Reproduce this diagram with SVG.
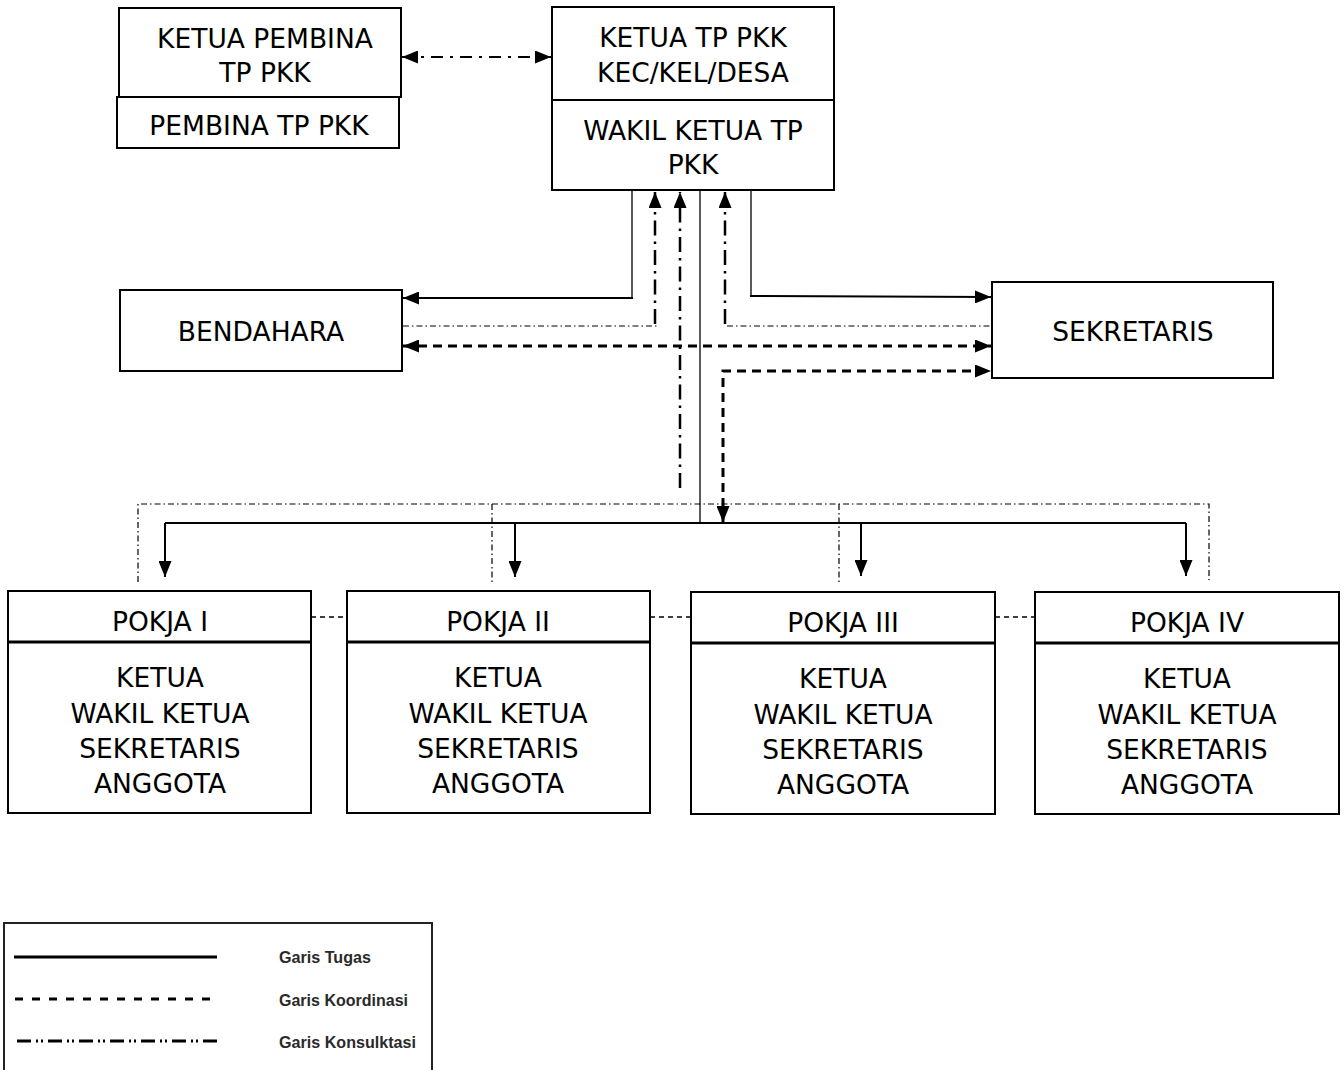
<svg xmlns="http://www.w3.org/2000/svg" width="1344" height="1070" viewBox="0 0 1344 1070">
<style>
.box{fill:#fff;stroke:#000;stroke-width:2}
.div{stroke:#000;stroke-width:3}
.t{font-family:"DejaVu Sans",Verdana,sans-serif;font-size:26.5px;fill:#000;text-anchor:middle}
.solid{fill:none;stroke:#000;stroke-width:2}
.thin{fill:none;stroke:#000;stroke-width:1.3}
.coord{fill:none;stroke:#000;stroke-width:3;stroke-dasharray:9 6}
.cons{fill:none;stroke:#000;stroke-width:2.5;stroke-dasharray:15 6 2.5 6}
.consthin{fill:none;stroke:#000;stroke-width:1.2;stroke-dasharray:6 3 1.5 3}
.pk{fill:none;stroke:#000;stroke-width:1.3;stroke-dasharray:5 4}
.lg{font-family:"Liberation Sans",Arial,sans-serif;font-weight:bold;font-size:17px;fill:#2a2a2a}
</style>
<defs>
<marker id="ah" viewBox="0 0 16 13" refX="16" refY="6.5" markerWidth="16" markerHeight="13" markerUnits="userSpaceOnUse" orient="auto-start-reverse">
<path d="M0,0 L16,6.5 L0,13 Z" fill="#000"/>
</marker>
</defs>

<g id="ketua-pembina">
<rect class="box" x="119" y="8" width="282" height="89"/>
<text class="t" x="265" y="48">KETUA PEMBINA</text>
<text class="t" x="265" y="82">TP PKK</text>
</g>
<g id="pembina">
<rect class="box" x="117" y="97" width="282" height="51"/>
<text class="t" x="259" y="135">PEMBINA TP PKK</text>
</g>
<g id="ketua-tp-pkk">
<rect class="box" x="552" y="7" width="282" height="183"/>
<line class="div" x1="552" y1="100" x2="834" y2="100" style="stroke-width:2"/>
<text class="t" x="693" y="47">KETUA TP PKK</text>
<text class="t" x="693" y="82">KEC/KEL/DESA</text>
<text class="t" x="693" y="140">WAKIL KETUA TP</text>
<text class="t" x="693" y="174">PKK</text>
</g>
<g id="bendahara">
<rect class="box" x="120" y="290" width="282" height="81"/>
<text class="t" x="261" y="341">BENDAHARA</text>
</g>
<g id="sekretaris">
<rect class="box" x="992" y="282" width="281" height="96"/>
<text class="t" x="1133" y="341">SEKRETARIS</text>
</g>
<g id="pokja1">
<rect class="box" x="8" y="591" width="303" height="222"/>
<line class="div" x1="8" y1="642" x2="311" y2="642"/>
<text class="t" x="160" y="631">POKJA I</text>
<text class="t" x="160" y="687">KETUA</text>
<text class="t" x="160" y="723">WAKIL KETUA</text>
<text class="t" x="160" y="758">SEKRETARIS</text>
<text class="t" x="160" y="793">ANGGOTA</text>
</g>
<g id="pokja2">
<rect class="box" x="347" y="591" width="303" height="222"/>
<line class="div" x1="347" y1="642" x2="650" y2="642"/>
<text class="t" x="498" y="631">POKJA II</text>
<text class="t" x="498" y="687">KETUA</text>
<text class="t" x="498" y="723">WAKIL KETUA</text>
<text class="t" x="498" y="758">SEKRETARIS</text>
<text class="t" x="498" y="793">ANGGOTA</text>
</g>
<g id="pokja3">
<rect class="box" x="691" y="592" width="304" height="222"/>
<line class="div" x1="691" y1="643" x2="995" y2="643"/>
<text class="t" x="843" y="632">POKJA III</text>
<text class="t" x="843" y="688">KETUA</text>
<text class="t" x="843" y="724">WAKIL KETUA</text>
<text class="t" x="843" y="759">SEKRETARIS</text>
<text class="t" x="843" y="794">ANGGOTA</text>
</g>
<g id="pokja4">
<rect class="box" x="1035" y="592" width="304" height="222"/>
<line class="div" x1="1035" y1="643" x2="1339" y2="643"/>
<text class="t" x="1187" y="632">POKJA IV</text>
<text class="t" x="1187" y="688">KETUA</text>
<text class="t" x="1187" y="724">WAKIL KETUA</text>
<text class="t" x="1187" y="759">SEKRETARIS</text>
<text class="t" x="1187" y="794">ANGGOTA</text>
</g>

<g id="connectors">
<line x1="402" y1="57" x2="551" y2="57" style="fill:none;stroke:#000;stroke-width:2;stroke-dasharray:12 7 3 7" marker-start="url(#ah)" marker-end="url(#ah)"/>
<polyline class="thin" points="632,191 632,298"/>
<line class="solid" x1="633" y1="298" x2="403" y2="298" marker-end="url(#ah)"/>
<polyline class="thin" points="751,191 751,296"/>
<line class="solid" x1="750" y1="296" x2="991" y2="297" marker-end="url(#ah)"/>
<line class="cons" x1="655" y1="324" x2="655" y2="192" marker-end="url(#ah)"/>
<line class="cons" x1="680" y1="488" x2="680" y2="192" marker-end="url(#ah)"/>
<line class="cons" x1="725" y1="324" x2="725" y2="192" marker-end="url(#ah)"/>
<polyline class="consthin" points="403,326 657,326"/>
<polyline class="consthin" points="727,326 992,326"/>
<line class="coord" x1="403" y1="346" x2="991" y2="346" marker-start="url(#ah)" marker-end="url(#ah)"/>
<polyline class="coord" points="723,522 723,371 991,371" marker-start="url(#ah)" marker-end="url(#ah)"/>
<line class="thin" x1="700" y1="191" x2="700" y2="523"/>
<polyline class="consthin" points="138,582 138,504 1209,504 1209,580"/>
<line class="consthin" x1="492" y1="504" x2="492" y2="583"/>
<line class="consthin" x1="839" y1="504" x2="839" y2="583"/>
<line class="solid" x1="165" y1="523" x2="1186" y2="523"/>
<line class="solid" x1="165" y1="523" x2="165" y2="577" marker-end="url(#ah)"/>
<line class="solid" x1="515" y1="523" x2="515" y2="577" marker-end="url(#ah)"/>
<line class="solid" x1="861" y1="523" x2="861" y2="576" marker-end="url(#ah)"/>
<line class="solid" x1="1186" y1="523" x2="1186" y2="576" marker-end="url(#ah)"/>
<line class="pk" x1="311" y1="617" x2="347" y2="617"/>
<line class="pk" x1="650" y1="617" x2="691" y2="617"/>
<line class="pk" x1="995" y1="617" x2="1035" y2="617"/>
</g>

<g id="legend">
<rect x="4" y="923" width="428" height="170" fill="#fff" stroke="#222" stroke-width="2"/>
<line x1="14" y1="957" x2="217" y2="957" stroke="#000" stroke-width="3"/>
<line x1="15" y1="999" x2="214" y2="999" stroke="#000" stroke-width="3" stroke-dasharray="8 9"/>
<line x1="17" y1="1041" x2="219" y2="1041" stroke="#000" stroke-width="3" stroke-dasharray="14 5 2 3 2 5"/>
<text class="lg" x="279" y="963" textLength="92" lengthAdjust="spacingAndGlyphs">Garis Tugas</text>
<text class="lg" x="279" y="1006" textLength="129" lengthAdjust="spacingAndGlyphs">Garis Koordinasi</text>
<text class="lg" x="279" y="1048" textLength="137" lengthAdjust="spacingAndGlyphs">Garis Konsulktasi</text>
</g>
</svg>
